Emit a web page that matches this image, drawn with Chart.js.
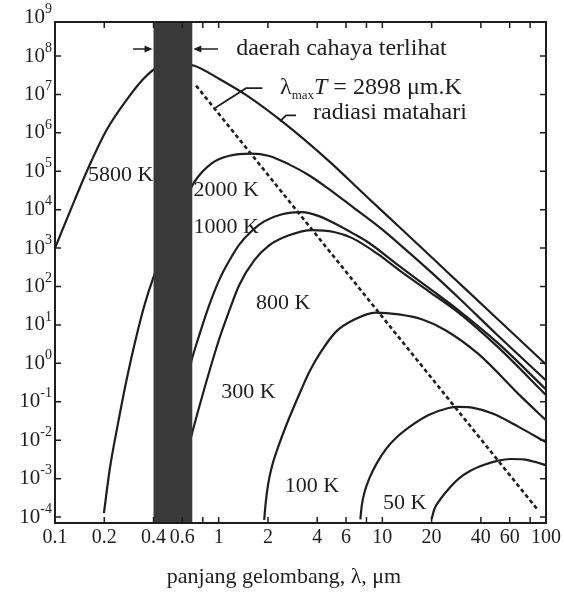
<!DOCTYPE html>
<html>
<head>
<meta charset="utf-8">
<title>Radiasi benda hitam</title>
<script src="https://cdn.jsdelivr.net/npm/chart.js@4.4.1/dist/chart.umd.min.js"></script>
<style>
  body { margin: 0; background: #fff; }
  canvas { display: block; }
</style>
</head>
<body>
<canvas id="blackbodyChart" width="564" height="593"></canvas>
<script>
// blackbody.js

// wavelength (um) and emissive power, one pair per temperature
const lambda5800 = [0.1, 0.132, 0.163, 0.207, 0.274, 0.343, 0.406, 0.5, 0.6, 0.711, 1.01, 1.475, 2.44, 4.72, 7.92, 12.6, 25.4, 51.1, 100];
const power5800 = [1000, 1.8e4, 1.47e5, 1.2e6, 7.2e6, 2.4e7, 4.6e7, 6.2e7, 6.2e7, 5.6e7, 2.53e7, 9.6e6, 1.98e6, 1.84e5, 2.3e4, 3.65e3, 222, 13.6, 0.94];

const lambda2000 = [0.199, 0.216, 0.242, 0.274, 0.311, 0.353, 0.395, 0.5, 0.6, 0.711, 0.915, 1.162, 1.58, 2.035, 2.69, 3.56, 4.72, 6.7, 9.5, 12.6, 20, 30, 49.7, 100];
const power2000 = [1.26e-4, 1.75e-3, 0.0258, 0.381, 4.18, 33.9, 151, 2e3, 1.2e4, 5.3e4, 1.66e5, 2.54e5, 2.88e5, 2.5e5, 1.51e5, 7.9e4, 3.44e4, 1.11e4, 3.6e3, 1.31e3, 230, 46, 5.8, 0.36];

const lambda1000 = [0.6, 0.682, 0.763, 0.878, 1.01, 1.162, 1.336, 1.58, 1.897, 2.44, 3.23, 4.1, 5.2, 6.7, 8.26, 12.6, 19.2, 29.2, 51.1, 100];
const power1000 = [0.12, 1.17, 5.6, 33.7, 151, 474, 1236, 2710, 4950, 7600, 8600, 6800, 4240, 2340, 1380, 350, 92, 24, 3.3, 0.21];

const lambda800 = [0.6, 0.682, 0.818, 1.01, 1.162, 1.336, 1.649, 2.035, 2.69, 3.72, 5.06, 6.51, 9.5, 12.6, 19.2, 29.2, 51.1, 100];
const power800 = [1.5e-3, 0.0132, 0.221, 4.43, 23.8, 110, 480, 1178, 2158, 2944, 2630, 1845, 676, 270, 75, 21, 2.6, 0.15];

const lambda300 = [1.897, 1.938, 2.006, 2.12, 2.31, 2.55, 2.81, 3.19, 3.61, 4.22, 5.2, 6.7, 9.1, 12.6, 17.4, 24.3, 38.6, 70.5, 100];
const power300 = [8.4e-5, 2.33e-4, 7.2e-4, 2.13e-3, 6.67e-3, 0.0208, 0.0575, 0.203, 0.638, 2.01, 6.6, 13.6, 21, 18.8, 14, 7.3, 1.76, 0.136, 0.033];

const lambda100 = [7.34, 7.49, 7.81, 8.38, 9.24, 10.49, 12.24, 14.9, 19.2, 25.4, 29.2, 36, 47.6, 67.7, 100];
const power100 = [8.7e-5, 2.01e-4, 4.66e-4, 1.08e-3, 2.5e-3, 5.78e-3, 0.0119, 0.0232, 0.045, 0.0689, 0.0733, 0.0697, 0.049, 0.0226, 8.8e-3];

const lambda50 = [20, 20.8, 22.7, 25.4, 29.2, 34.5, 42, 51.1, 60.5, 72.6, 85.8, 100];
const power50 = [8.9e-5, 1.62e-4, 2.97e-4, 5.4e-4, 9.9e-4, 1.6e-3, 2.3e-3, 2.94e-3, 3.24e-3, 3.16e-3, 2.72e-3, 2.22e-3];

// lambda_max T = 2898 um.K
const wienLambda = [0.728, 89.5];
const wienPower = [1.69e7, 1.5e-4];

// visible light, um
const visibleBand = [0.4, 0.69];

const xTickLabels = [0.1, 0.2, 0.4, 0.6, 1, 2, 4, 6, 10, 20, 40, 60, 100];
const xTickMarks = [0.2, 0.4, 0.6, 0.8, 1, 2, 4, 6, 8, 10, 20, 40, 60, 80];
const yDecades = [-4, -3, -2, -1, 0, 1, 2, 3, 4, 5, 6, 7, 8, 9];

// text anchors, in axis units
const curveLabels = [
  { text: '5800 K', x: 0.252, y: 8.1e4 },
  { text: '2000 K', x: 1.11, y: 3.3e4 },
  { text: '1000 K', x: 1.11, y: 3.4e3 },
  { text: '800 K', x: 2.48, y: 36 },
  { text: '300 K', x: 1.52, y: 0.175 },
  { text: '100 K', x: 3.72, y: 6.3e-4 },
  { text: '50 K', x: 13.7, y: 2.3e-4 }
];
const bandNote = { text: 'daerah cahaya terlihat', x: 1.28, y: 1.52e8, arrowFrom: [0.3, 0.99] };
const sunNote = { text: 'radiasi matahari', x: 3.77, y: 3.3e6 };
const wienNote = { x: 2.37, y: 1.48e7 };
const leaders = [
  [[1.85, 1.45e7], [1.47, 1.45e7], [0.955, 4.5e6]],
  [[2.97, 2.85e6], [2.58, 2.85e6], [2.37, 2.0e6]]
];

const INK = '#1e1e1e';
const SERIF = "'Liberation Serif', 'Times New Roman', serif";

function toPoints(xs, ys) {
  return xs.map((x, i) => ({ x: x, y: ys[i] }));
}

function curve(xs, ys) {
  return {
    data: toPoints(xs, ys),
    showLine: true,
    borderColor: INK,
    borderWidth: 2.2,
    pointRadius: 0,
    cubicInterpolationMode: 'monotone'
  };
}

function arrow(ctx, x0, tip, y) {
  const dir = Math.sign(tip - x0);
  ctx.beginPath();
  ctx.moveTo(x0, y);
  ctx.lineTo(tip - dir * 6, y);
  ctx.stroke();
  ctx.beginPath();
  ctx.moveTo(tip, y);
  ctx.lineTo(tip - dir * 8, y - 3.5);
  ctx.lineTo(tip - dir * 8, y + 3.5);
  ctx.closePath();
  ctx.fill();
}

const decorations = {
  id: 'decorations',
  afterDatasetsDraw(chart) {
    const { ctx, chartArea: a, scales: { x, y } } = chart;
    const px = v => x.getPixelForValue(v);
    const py = v => y.getPixelForValue(v);
    ctx.save();

    // visible band covers the curves
    ctx.fillStyle = '#3a3a3a';
    ctx.fillRect(px(visibleBand[0]), a.top, px(visibleBand[1]) - px(visibleBand[0]), a.bottom - a.top);

    // frame and inward ticks
    ctx.strokeStyle = INK;
    ctx.lineWidth = 2;
    ctx.strokeRect(a.left, a.top, a.right - a.left, a.bottom - a.top);
    ctx.lineWidth = 1.5;
    ctx.beginPath();
    xTickMarks.forEach(v => {
      ctx.moveTo(px(v), a.bottom); ctx.lineTo(px(v), a.bottom - 6);
      ctx.moveTo(px(v), a.top); ctx.lineTo(px(v), a.top + 6);
    });
    yDecades.forEach(n => {
      const yy = py(Math.pow(10, n));
      if (yy < a.top + 2 || yy > a.bottom - 2) return;
      ctx.moveTo(a.left, yy); ctx.lineTo(a.left + 6, yy);
      ctx.moveTo(a.right, yy); ctx.lineTo(a.right - 6, yy);
    });
    ctx.stroke();

    // y labels: 10 with a raised exponent
    ctx.fillStyle = INK;
    ctx.textBaseline = 'middle';
    ctx.textAlign = 'right';
    yDecades.forEach(n => {
      const yy = py(Math.pow(10, n));
      const exp = String(n);
      ctx.font = '14px ' + SERIF;
      ctx.fillText(exp, a.left - 3, yy - 8);
      const w = ctx.measureText(exp).width;
      ctx.font = '21px ' + SERIF;
      ctx.fillText('10', a.left - 3 - w, yy);
    });

    // axis title
    ctx.textAlign = 'center';
    ctx.font = '22px ' + SERIF;
    ctx.fillText('panjang gelombang, λ, μm', a.left + 229, 577);

    // curve labels
    curveLabels.forEach(l => ctx.fillText(l.text, px(l.x), py(l.y)));

    // visible band arrows and note
    ctx.lineWidth = 1.5;
    arrow(ctx, px(bandNote.arrowFrom[0]), px(visibleBand[0]) - 1, py(bandNote.y));
    arrow(ctx, px(bandNote.arrowFrom[1]), px(visibleBand[1]) + 1, py(bandNote.y));
    ctx.textAlign = 'left';
    ctx.font = '24px ' + SERIF;
    ctx.fillText(bandNote.text, px(bandNote.x), py(bandNote.y));
    ctx.fillText(sunNote.text, px(sunNote.x), py(sunNote.y));

    // lambda_max T note
    let cx = px(wienNote.x);
    const cy = py(wienNote.y);
    ctx.fillText('λ', cx, cy);
    cx += ctx.measureText('λ').width;
    ctx.font = '13px ' + SERIF;
    ctx.fillText('max', cx, cy + 8);
    cx += ctx.measureText('max').width;
    ctx.font = 'italic 24px ' + SERIF;
    ctx.fillText('T', cx, cy);
    cx += ctx.measureText('T').width;
    ctx.font = '24px ' + SERIF;
    ctx.fillText(' = 2898 μm.K', cx, cy);

    // leader lines
    ctx.lineWidth = 1.8;
    leaders.forEach(pts => {
      ctx.beginPath();
      pts.forEach((p, i) => {
        if (i === 0) ctx.moveTo(px(p[0]), py(p[1]));
        else ctx.lineTo(px(p[0]), py(p[1]));
      });
      ctx.stroke();
    });
    ctx.restore();
  }
};

function renderChart() {
  const ctx = document.getElementById('blackbodyChart').getContext('2d');
  const wien = curve(wienLambda, wienPower);
  wien.borderDash = [4, 3];
  wien.borderWidth = 2.6;
  wien.cubicInterpolationMode = 'default';

  new Chart(ctx, {
    type: 'scatter',
    data: {
      datasets: [
        curve(lambda5800, power5800),
        curve(lambda2000, power2000),
        curve(lambda1000, power1000),
        curve(lambda800, power800),
        curve(lambda300, power300),
        curve(lambda100, power100),
        curve(lambda50, power50),
        wien
      ]
    },
    options: {
      responsive: false,
      animation: false,
      devicePixelRatio: 1,
      layout: { padding: { top: 22, right: 16, left: 0, bottom: 0 } },
      plugins: { legend: { display: false }, tooltip: { enabled: false } },
      scales: {
        x: {
          type: 'logarithmic',
          min: 0.1,
          max: 100,
          grid: { display: false, drawTicks: false },
          border: { display: false },
          afterBuildTicks: axis => { axis.ticks = xTickLabels.map(v => ({ value: v })); },
          afterFit: axis => { axis.height = 70; },
          ticks: {
            autoSkip: false,
            maxRotation: 0,
            padding: 3,
            color: INK,
            font: { family: SERIF, size: 20 },
            callback: v => String(v)
          }
        },
        y: {
          type: 'logarithmic',
          min: 7.33e-5,
          max: 7.67e8,
          grid: { display: false, drawTicks: false },
          border: { display: false },
          ticks: { display: false },
          afterFit: axis => { axis.width = 55; }
        }
      }
    },
    plugins: [decorations]
  });
}

renderChart();
</script>
</body>
</html>
